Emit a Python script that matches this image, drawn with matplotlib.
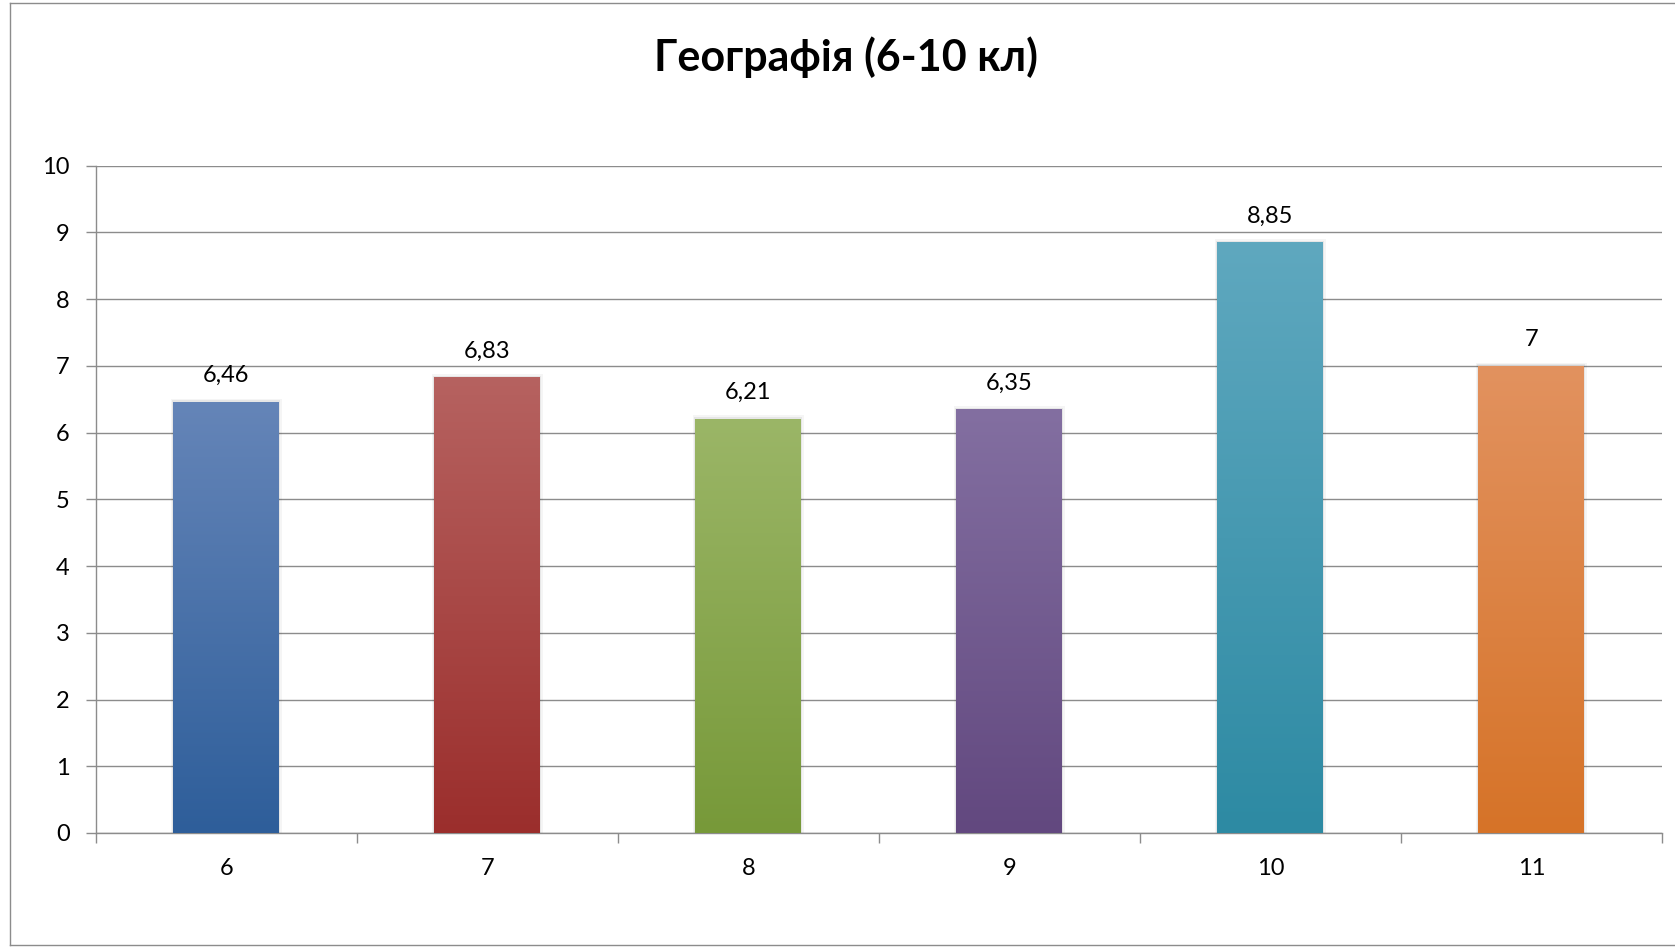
import numpy as np
import matplotlib.pyplot as plt
from matplotlib.colors import LinearSegmentedColormap
from matplotlib.patches import Rectangle
from matplotlib.lines import Line2D

# Data
grades = ['6', '7', '8', '9', '10', '11']
scores = [6.46, 6.83, 6.21, 6.35, 8.85, 7]

# Gradient colors (top, bottom) for each bar
top_colors = ['#6585b8', '#b66260', '#9bb667', '#836fa1', '#5fa8bf', '#e2925f']
bottom_colors = ['#2e5e9a', '#9b2e2c', '#779939', '#62487f', '#2d8aa3', '#d67328']

plt.rcParams['font.family'] = ['Lato', 'DejaVu Sans']

fig = plt.figure(figsize=(16.75, 9.47), dpi=100)
ax = fig.add_axes([0.0573, 0.1204, 0.9349, 0.7046])

# Chart border
fig.add_artist(Line2D([0.006, 0.006], [0.002, 0.997], transform=fig.transFigure,
                      color='#8c8c8c', lw=1))
fig.add_artist(Line2D([0.006, 1.0], [0.997, 0.997], transform=fig.transFigure,
                      color='#8c8c8c', lw=1))
fig.add_artist(Line2D([0.006, 1.0], [0.002, 0.002], transform=fig.transFigure,
                      color='#8c8c8c', lw=1))

x = np.arange(len(grades)) + 0.5
width = 0.406
grad = np.linspace(0, 1, 256).reshape(-1, 1)

for xi, v, ct, cb in zip(x, scores, top_colors, bottom_colors):
    # soft shadow on both sides
    for d, a in [(0.004, 0.06), (0.008, 0.04)]:
        ax.add_patch(Rectangle((xi - width / 2 - d, 0), width + 2 * d, v + d * 6,
                               facecolor='black', alpha=a, lw=0, zorder=2))
    bar = ax.bar(xi, v, width=width, color=cb, zorder=3)[0]
    cmap = LinearSegmentedColormap.from_list('g', [cb, ct])
    im = ax.imshow(grad, cmap=cmap, aspect='auto', origin='lower',
                   extent=(xi - width / 2, xi + width / 2, 0, v), zorder=4)
    im.set_clip_path(bar)
    label = ('%g' % v).replace('.', ',')
    ax.annotate(label, (xi, v), xytext=(0, 19), textcoords='offset points',
                ha='center', va='center', fontsize=17)

ax.set_xlim(0, len(grades))
ax.set_ylim(0, 10)
ax.set_yticks(range(0, 11))
ax.set_xticks(range(0, len(grades) + 1))
ax.set_xticklabels([])
ax.set_xticks(x, minor=True)
ax.set_xticklabels(grades, minor=True)
ax.tick_params(axis='x', which='minor', length=0, pad=18, labelsize=17)
ax.tick_params(axis='x', which='major', length=7, color='#8c8c8c', width=1)
ax.tick_params(axis='y', length=7, color='#8c8c8c', width=1, pad=12, labelsize=17)

ax.grid(axis='y', color='#8c8c8c', lw=1, zorder=0)
ax.set_axisbelow(True)
for s in ['top', 'right']:
    ax.spines[s].set_visible(False)
for s in ['left', 'bottom']:
    ax.spines[s].set_color('#8c8c8c')
    ax.spines[s].set_linewidth(1)

fig.text(0.505, 0.940, 'Географія (6-10 кл)', ha='center', va='center',
         fontsize=31, fontweight='bold')

fig.savefig('out.png', dpi=100)
